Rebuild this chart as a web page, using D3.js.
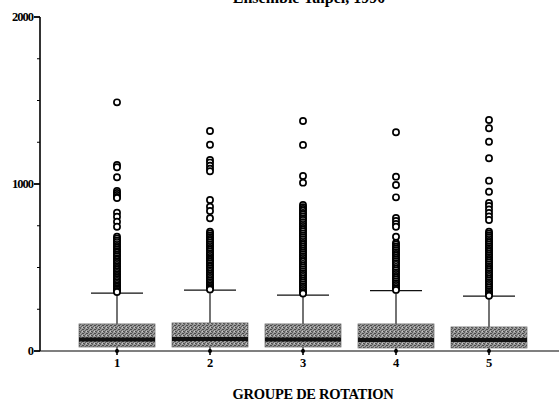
<!DOCTYPE html>
<html>
<head>
<meta charset="utf-8">
<script src="https://cdn.jsdelivr.net/npm/d3@7"></script>
<style>
  body { margin: 0; background: #fff; }
  svg { display: block; }
  text { font-family: "Liberation Serif", "DejaVu Serif", serif; font-weight: bold; fill: #000; }
</style>
</head>
<body>
<div class="chart-container"></div>
<script>
const totalWidth = 559;
const totalHeight = 402;

const titleText = "Ensemble Taipei, 1990";
const xTitle = "GROUPE DE ROTATION";

const groups = ["1", "2", "3", "4", "5"];
const q1 = [24, 24, 24, 18, 18];
const medians = [69, 72, 69, 66, 66];
const q3 = [162, 168, 162, 162, 144];
const whiskerHigh = [347, 365, 335, 361, 329];

const outliers1 = [1489, 1114, 1100, 1040, 958, 946, 934, 922, 916, 828, 804, 774, 744,
  684, 673, 661, 652, 640, 629, 619, 608, 597, 588, 577, 567, 556, 546, 536, 527, 516,
  506, 497, 487, 477, 468, 458, 449, 439, 430, 420, 411, 402, 393, 385, 376, 368, 360, 353];
const outliers2 = [1317, 1235, 1144, 1128, 1110, 1092, 1076, 904, 864, 838, 795,
  714, 703, 691, 681, 671, 660, 649, 638, 628, 617, 607, 596, 584, 575, 563, 553, 545,
  535, 525, 514, 505, 494, 484, 474, 463, 453, 443, 432, 422, 412, 402, 392, 383, 375, 369];
const outliers3 = [1377, 1234, 1048, 1008,
  874, 861, 850, 840, 827, 818, 806, 794, 784, 771, 760, 749, 737, 726, 716, 703, 692,
  681, 669, 658, 647, 636, 624, 613, 601, 590, 579, 568, 557, 545, 534, 522, 511, 500,
  489, 478, 466, 455, 444, 433, 421, 410, 399, 388, 377, 366, 354, 344];
const outliers4 = [1310, 1044, 994, 920, 796, 779, 761, 744, 684,
  647, 637, 625, 614, 604, 592, 581, 571, 559, 548, 538, 526, 516, 504, 493, 483, 471,
  461, 449, 439, 428, 417, 406, 395, 384, 374, 366];
const outliers5 = [1383, 1334, 1253, 1154, 1020, 954, 886, 868, 848, 826, 806, 784,
  714, 703, 692, 681, 670, 659, 648, 637, 626, 616, 605, 594, 583, 572, 562, 551, 540,
  530, 519, 508, 497, 487, 476, 465, 455, 444, 433, 423, 412, 401, 390, 380, 369, 358,
  348, 338, 331];
const outliers = [outliers1, outliers2, outliers3, outliers4, outliers5];

const yMajorTicks = [0, 1000, 2000];
const yMinorTicks = [250, 500, 750, 1250, 1500, 1750];

const boxWidth = 76;
const capWidth = 52;

const svg = d3.select(".chart-container")
  .append("svg")
  .attr("width", totalWidth)
  .attr("height", totalHeight);

// grainy grey for the boxes (like the printed screen tone)
const defs = svg.append("defs");
const pat = defs.append("pattern")
  .attr("id", "dither")
  .attr("width", 4).attr("height", 4)
  .attr("patternUnits", "userSpaceOnUse");
pat.append("rect").attr("width", 4).attr("height", 4).attr("fill", "#9a9a9a");
[[0, 0], [2, 1], [1, 2], [3, 3], [0, 3], [3, 1]].forEach(([px, py], k) => {
  pat.append("rect").attr("x", px).attr("y", py).attr("width", 1).attr("height", 1)
    .attr("fill", k % 2 ? "#4a4a4a" : "#606060");
});
pat.append("rect").attr("x", 2).attr("y", 3).attr("width", 1).attr("height", 1).attr("fill", "#c8c8c8");

const y = d3.scaleLinear().domain([0, 2000]).range([351, 17]);
const x = d3.scalePoint().domain(groups).range([117, 489]);

const boxes = groups.map((g, i) => ({
  g, q1: q1[i], med: medians[i], q3: q3[i], hi: whiskerHigh[i], out: outliers[i]
}));

// title (cut off at the top of the page, as in the scan)
svg.append("text")
  .attr("x", 309).attr("y", 3)
  .attr("text-anchor", "middle")
  .attr("font-size", 16)
  .text(titleText);

// y axis
const yAxis = svg.append("g").attr("transform", "translate(40,0)");
yAxis.append("line")
  .attr("y1", y(2000)).attr("y2", y(0))
  .attr("stroke", "#000").attr("stroke-width", 1.6);
yAxis.selectAll(".major")
  .data(yMajorTicks).enter().append("line")
  .attr("x1", -6).attr("x2", 0)
  .attr("y1", d => y(d)).attr("y2", d => y(d))
  .attr("stroke", "#000").attr("stroke-width", 1.8);
yAxis.selectAll(".minor")
  .data(yMinorTicks).enter().append("line")
  .attr("x1", -3).attr("x2", 0)
  .attr("y1", d => y(d)).attr("y2", d => y(d))
  .attr("stroke", "#000").attr("stroke-width", 1);
yAxis.selectAll("text")
  .data(yMajorTicks).enter().append("text")
  .attr("x", -7).attr("y", d => y(d))
  .attr("dy", "0.35em")
  .attr("text-anchor", "end")
  .attr("font-size", 12.5)
  .attr("letter-spacing", -1)
  .text(d => d);

// x axis
const xAxis = svg.append("g");
xAxis.append("line")
  .attr("x1", 40).attr("x2", totalWidth)
  .attr("y1", y(0)).attr("y2", y(0))
  .attr("stroke", "#000").attr("stroke-width", 1.1);
xAxis.selectAll(".tick")
  .data(groups).enter().append("line")
  .attr("x1", d => x(d)).attr("x2", d => x(d))
  .attr("y1", y(0) - 2).attr("y2", y(0) + 4)
  .attr("stroke", "#000").attr("stroke-width", 1.6);
xAxis.selectAll("circle")
  .data(groups).enter().append("circle")
  .attr("cx", d => x(d)).attr("cy", y(0))
  .attr("r", 2).attr("fill", "#000");
xAxis.selectAll("text")
  .data(groups).enter().append("text")
  .attr("x", d => x(d)).attr("y", 367)
  .attr("text-anchor", "middle")
  .attr("font-size", 12.5)
  .text(d => d);

svg.append("text")
  .attr("x", 313).attr("y", 399)
  .attr("text-anchor", "middle")
  .attr("font-size", 14.5)
  .attr("letter-spacing", -0.3)
  .text(xTitle);

// boxes
const bx = svg.append("g").selectAll("g")
  .data(boxes).enter().append("g");

bx.append("line")
  .attr("x1", d => x(d.g)).attr("x2", d => x(d.g))
  .attr("y1", d => y(d.hi)).attr("y2", d => y(0))
  .attr("stroke", "#000").attr("stroke-width", 1.1);

bx.append("line")
  .attr("x1", d => x(d.g) - capWidth / 2).attr("x2", d => x(d.g) + capWidth / 2)
  .attr("y1", d => y(d.hi)).attr("y2", d => y(d.hi))
  .attr("stroke", "#111").attr("stroke-width", 1.2);

bx.append("rect")
  .attr("x", d => x(d.g) - boxWidth / 2)
  .attr("width", boxWidth)
  .attr("y", d => y(d.q3))
  .attr("height", d => y(d.q1) - y(d.q3))
  .attr("fill", "url(#dither)")
  .attr("stroke", "#666").attr("stroke-width", 0.7);

bx.append("line")
  .attr("x1", d => x(d.g) - boxWidth / 2).attr("x2", d => x(d.g) + boxWidth / 2)
  .attr("y1", d => y(d.med)).attr("y2", d => y(d.med))
  .attr("stroke", "#111").attr("stroke-width", 4);

// outliers
bx.selectAll("circle")
  .data(d => d.out.map(v => ({g: d.g, v})))
  .enter().append("circle")
  .attr("cx", d => x(d.g))
  .attr("cy", d => y(d.v))
  .attr("r", 3.1)
  .attr("fill", "#fff")
  .attr("stroke", "#000")
  .attr("stroke-width", 1.7);
</script>
</body>
</html>
